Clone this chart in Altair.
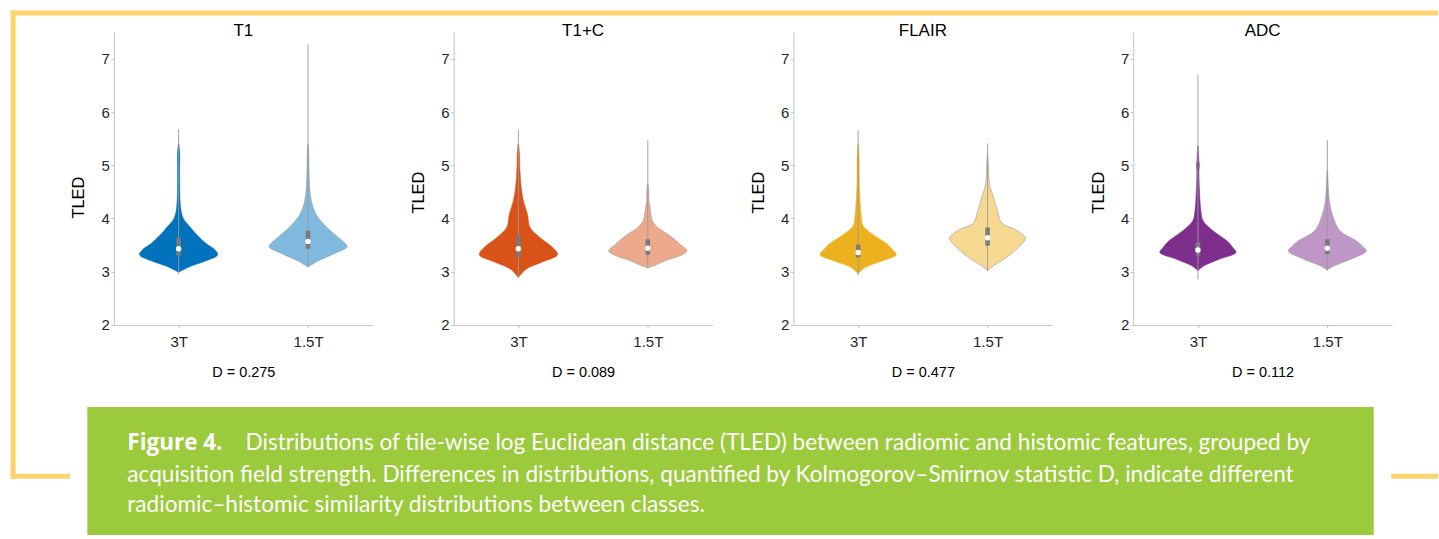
import altair as alt
import pandas as pd

# ---------------- data ----------------
PANELS = ["T1", "T1+C", "FLAIR", "ADC"]
GROUPS = ["3T", "1.5T"]
D_STATS = ["0.275", "0.089", "0.477", "0.112"]
DARK = ["#0072BD", "#D95319", "#EDB120", "#7E2F8E"]
LIGHT = ["#80B9DE", "#ECA98C", "#F6D890", "#BF97C7"]
Y_TICKS = [2, 3, 4, 5, 6, 7]

# violin outlines: TLED level and half-width (fraction of category spacing)
T1_3T_Y = [2.99, 3.11, 3.21, 3.32, 3.43, 3.52, 3.71, 3.85, 4.00, 4.21, 4.50, 4.80, 5.00, 5.20, 5.40]
T1_3T_W = [0, .101, .217, .302, .271, .217, .135, .085, .036, .015, .009, .008, .008, .009, .002]
T1_15T_Y = [3.09, 3.21, 3.33, 3.47, 3.55, 3.64, 3.83, 4.08, 4.33, 4.60, 4.90, 5.20, 5.40]
T1_15T_W = [0, .085, .193, .302, .280, .236, .147, .062, .026, .012, .008, .006, .002]

T1C_3T_Y = [2.89, 3.05, 3.19, 3.32, 3.46, 3.64, 3.83, 4.08, 4.33, 4.58, 4.90, 5.20, 5.40]
T1C_3T_W = [0, .062, .193, .302, .263, .168, .090, .070, .039, .022, .012, .009, .002]
T1C_15T_Y = [3.07, 3.11, 3.21, 3.30, 3.39, 3.52, 3.68, 3.83, 3.96, 4.08, 4.24, 4.33, 4.49, 4.65]
T1C_15T_W = [0, .046, .139, .247, .302, .247, .170, .077, .035, .025, .015, .008, .008, .002]

FLAIR_3T_Y = [2.96, 3.08, 3.21, 3.32, 3.42, 3.52, 3.71, 3.86, 4.08, 4.46, 4.80, 5.10, 5.40]
FLAIR_3T_W = [0, .054, .193, .294, .263, .224, .108, .039, .023, .012, .008, .008, .002]
FLAIR_15T_Y = [3.02, 3.11, 3.27, 3.46, 3.63, 3.72, 3.80, 3.92, 4.14, 4.39, 4.65, 4.96, 5.20]
FLAIR_15T_W = [0, .046, .147, .240, .294, .263, .209, .108, .077, .046, .015, .008, .002]

ADC_3T_Y = [3.02, 3.11, 3.24, 3.36, 3.45, 3.58, 3.77, 3.96, 4.14, 4.52, 4.90, 5.00, 5.10, 5.36]
ADC_3T_W = [0, .046, .170, .294, .271, .224, .116, .039, .023, .012, .008, .011, .007, .002]
ADC_15T_Y = [3.03, 3.11, 3.24, 3.39, 3.48, 3.58, 3.77, 4.02, 4.27, 4.58, 4.90]
ADC_15T_W = [0, .054, .186, .302, .271, .224, .097, .046, .019, .008, .002]

VIOLINS = [
    [(T1_3T_Y, T1_3T_W), (T1_15T_Y, T1_15T_W)],
    [(T1C_3T_Y, T1C_3T_W), (T1C_15T_Y, T1C_15T_W)],
    [(FLAIR_3T_Y, FLAIR_3T_W), (FLAIR_15T_Y, FLAIR_15T_W)],
    [(ADC_3T_Y, ADC_3T_W), (ADC_15T_Y, ADC_15T_W)],
]

# summary stats: min, q1, median, q3, max
T1_STATS = [[2.96, 3.30, 3.43, 3.64, 5.68], [3.08, 3.43, 3.57, 3.77, 7.27]]
T1C_STATS = [[2.88, 3.27, 3.43, 3.68, 5.66], [3.06, 3.32, 3.44, 3.61, 5.47]]
FLAIR_STATS = [[2.93, 3.27, 3.36, 3.51, 5.66], [3.02, 3.49, 3.64, 3.83, 5.41]]
ADC_STATS = [[2.86, 3.30, 3.41, 3.55, 6.70], [3.02, 3.33, 3.44, 3.61, 5.47]]
STATS = [T1_STATS, T1C_STATS, FLAIR_STATS, ADC_STATS]

CAPTION_BOLD = "Figure 4."
CAPTION_LINES = [
    "Distributions of tile-wise log Euclidean distance (TLED) between radiomic and histomic features, grouped by",
    "acquisition field strength. Differences in distributions, quantified by Kolmogorov\u2013Smirnov statistic D, indicate different",
    "radiomic\u2013histomic similarity distributions between classes.",
]

# ---------------- styling ----------------
AX_FONT = "Liberation Sans"
CAP_FONT = "Lato"
FRAME = "#FDD36E"
GREEN = "#9BCA3C"
W, H = 259, 293
OX, OY = 113.3, 31.7  # page position of first panel's plot origin (decor only)

label_expr = " : ".join(
    [f"datum.value == {i + 1} ? '{g}'" for i, g in enumerate(GROUPS[:-1])] + [f"'{GROUPS[-1]}'"]
)


def panel(i):
    vrows = []
    for g, (ys, ws) in enumerate(VIOLINS[i]):
        for y, w in zip(ys, ws):
            vrows.append({
                "group": GROUPS[g], "pos": g + 1, "y": y, "w": w,
                "fill": DARK[i] if g == 0 else LIGHT[i],
                "stroke": DARK[i] if g == 0 else "#9a9a9a",
            })
    vdf = pd.DataFrame(vrows)
    srows = []
    for g, s in enumerate(STATS[i]):
        srows.append({"group": GROUPS[g], "pos": g + 1, "lo": s[0], "q1": s[1],
                      "med": s[2], "q3": s[3], "hi": s[4]})
    sdf = pd.DataFrame(srows)

    xscale = alt.Scale(domain=[0.5, 2.5], nice=False, zero=False)
    yscale = alt.Scale(domain=[2, 7.5], nice=False, zero=False)
    xaxis = alt.Axis(values=[1, 2], labelExpr=label_expr, title=f"D = {D_STATS[i]}",
                     titleY=51.4, titleBaseline="alphabetic", titleFontSize=14.5,
                     labelBaseline="alphabetic", labelPadding=18.4, tickSize=3,
                     labelFontSize=15, grid=False)
    yaxis = alt.Axis(values=Y_TICKS, format="d", title="TLED", titleX=-30,
                     titleY=(165 if i == 0 else 160),
                     titleBaseline="alphabetic", titleAngle=270, titleFontSize=16.5,
                     labelPadding=1.5, tickSize=3, labelFontSize=15, grid=False)

    base_v = alt.Chart(vdf).transform_calculate(
        xl="datum.pos - datum.w", xr="datum.pos + datum.w"
    )
    violin = base_v.mark_area(orient="horizontal", interpolate="catmull-rom", strokeWidth=0.6).encode(
        y=alt.Y("y:Q", scale=yscale, axis=yaxis),
        x=alt.X("xl:Q", scale=xscale, axis=xaxis),
        x2="xr:Q",
        detail="group:N",
        fill=alt.Fill("fill:N", scale=None),
        stroke=alt.Stroke("stroke:N", scale=None),
    )
    base_s = alt.Chart(sdf)
    whisker = base_s.mark_rule(color="#999999", strokeWidth=1, opacity=0.9).encode(
        x="pos:Q", y="lo:Q", y2="hi:Q")
    box = base_s.mark_rule(color="#7a7a7a", strokeWidth=4.5).encode(
        x="pos:Q", y="q1:Q", y2="q3:Q")
    med = base_s.mark_point(filled=True, color="white", size=30, opacity=1).encode(
        x="pos:Q", y="med:Q")

    title = alt.Chart(pd.DataFrame({"t": [PANELS[i]]})).mark_text(
        font=AX_FONT, fontSize=17, color="#000000", align="center", baseline="alphabetic"
    ).encode(text="t:N", x=alt.value(W / 2), y=alt.value(4))

    layers = [violin, whisker, box, med, title]

    if i == 0:
        one = pd.DataFrame({"k": [0]})

        def rect(x1, x2, y1, y2, color):
            return alt.Chart(one).mark_rect(color=color).encode(
                x=alt.value(x1 - OX), x2=alt.value(x2 - OX),
                y=alt.value(y1 - OY), y2=alt.value(y2 - OY))
        layers += [
            rect(10, 1438.5, 10, 15, FRAME),
            rect(10, 15, 10, 478.5, FRAME),
            rect(10, 69.5, 473.5, 478.5, FRAME),
            rect(1391.5, 1438.5, 473.5, 478.5, FRAME),
            rect(86.7, 1374, 406.7, 535, GREEN),
        ]

        def txt(s, x, y, size, font, bold=False):
            return alt.Chart(pd.DataFrame({"t": [s]})).mark_text(
                align="left", baseline="alphabetic", font=font, fontSize=size,
                fontWeight="bold" if bold else "normal", color="white").encode(
                text="t:N", x=alt.value(x - OX), y=alt.value(y - OY))
        layers += [
            txt(CAPTION_BOLD, 126.7, 449.5, 22.5, "Open Sans", bold=True),
            txt(CAPTION_LINES[0], 245, 449.5, 22.6, CAP_FONT),
            txt(CAPTION_LINES[1], 126.7, 481.5, 22.6, CAP_FONT),
            txt(CAPTION_LINES[2], 126.7, 511.7, 22.6, CAP_FONT),
        ]

    return alt.layer(*layers).properties(width=W, height=H)


chart = alt.hconcat(*[panel(i) for i in range(4)], spacing=81, bounds="flush").properties(
    padding={"left": 10, "top": 10, "right": 0, "bottom": 0}
).configure_view(stroke=None).configure_axis(
    domainColor="#c4c4c4", tickColor="#c4c4c4", labelColor="#262626", titleColor="#000000",
    labelFont=AX_FONT, titleFont=AX_FONT, titleFontWeight="normal",
)

chart.save("out.html", embed_options={"renderer": "svg", "actions": False})
